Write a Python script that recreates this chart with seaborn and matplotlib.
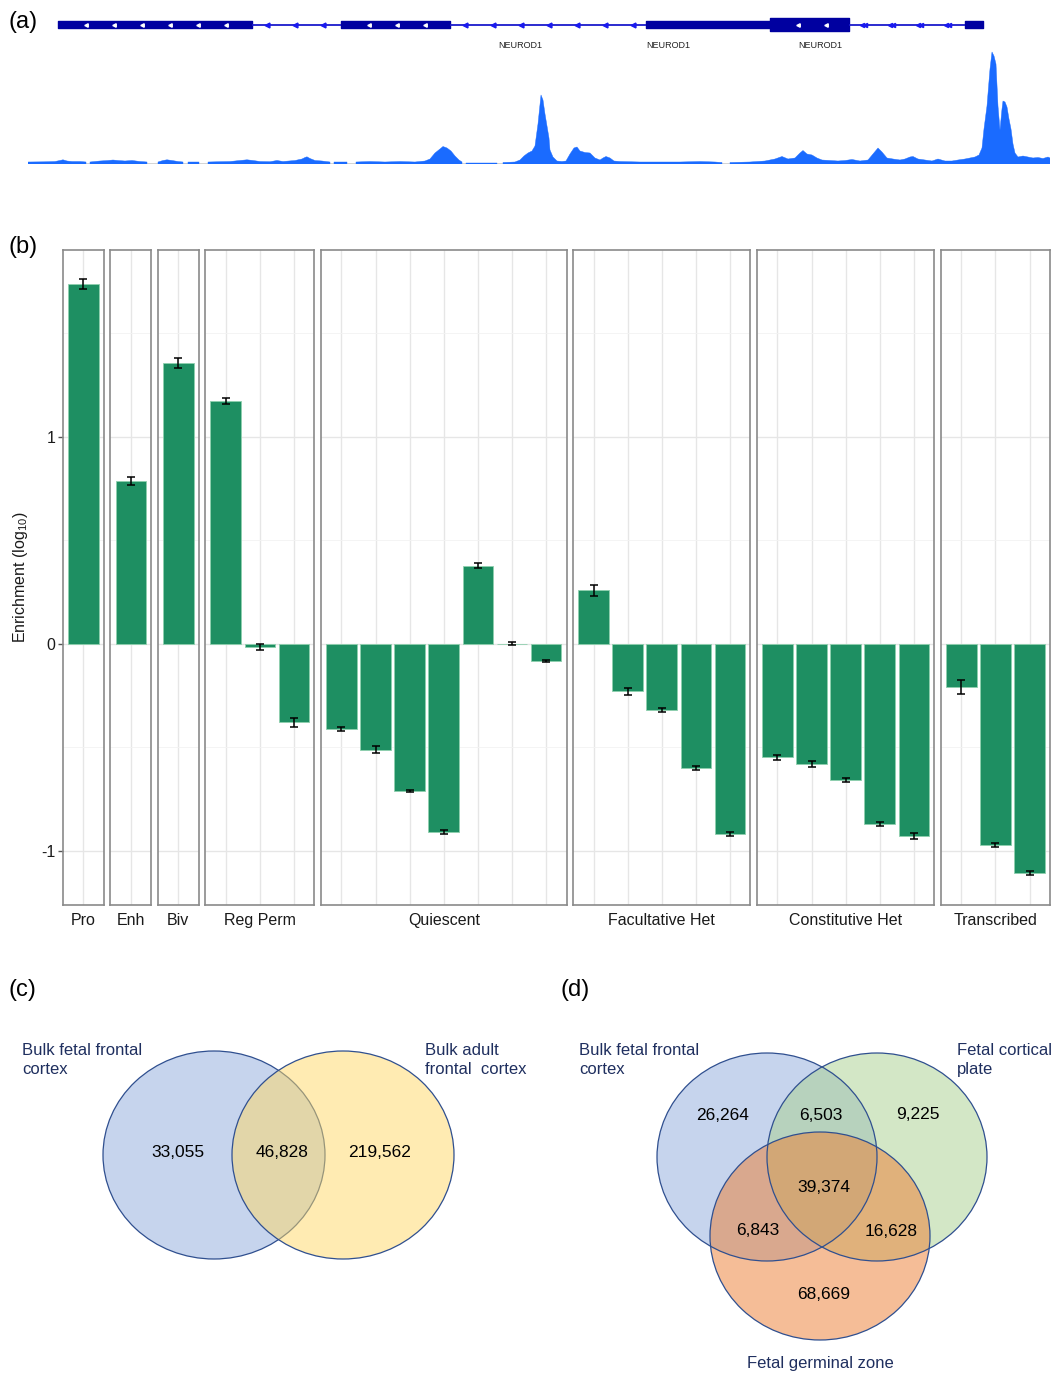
import numpy as np
import pandas as pd
import matplotlib
matplotlib.use("Agg")
import matplotlib.pyplot as plt
from matplotlib.patches import Ellipse
import seaborn as sns

W, H = 1056, 1374

# ---- (a) gene track + coverage ----
utr_exons = [(58, 252), (341, 450), (646, 770), (965, 983)]
cds_exons = [(770, 849)]
introns = [(252, 341), (450, 646), (849, 965)]
gene_label_pos = [520, 668, 820]
gene_label = "NEUROD1"

signal_pos = [28, 45, 55, 60, 63, 67, 72, 80, 86, 87, 89, 90, 100, 108, 113, 118, 125, 132, 140, 147,
              148, 157, 158, 163, 167, 172, 178, 183, 184, 187, 188, 199, 200, 207, 208, 220, 230, 240,
              247, 253, 260, 270, 277, 283, 295, 302, 305, 307, 310, 315, 322, 330, 331, 333, 334, 347,
              348, 355, 356, 370, 385, 400, 415, 425, 430, 435, 440, 443, 447, 451, 455, 459, 462, 463,
              465, 466, 497, 498, 502, 503, 515, 520, 524, 528, 532, 535, 538, 541, 543, 545, 547, 549,
              550, 553, 557, 562, 566, 570, 574, 577, 580, 585, 590, 595, 600, 603, 606, 610, 614, 620,
              640, 660, 680, 700, 715, 722, 723, 729, 730, 750, 765, 775, 782, 788, 795, 800, 803, 807,
              812, 817, 822, 830, 838, 845, 852, 860, 868, 873, 878, 882, 887, 893, 900, 905, 910, 913,
              918, 925, 932, 938, 945, 952, 958, 965, 970, 975, 979, 982, 984, 987, 990, 992, 994, 996,
              998, 1000, 1002, 1003, 1005, 1007, 1009, 1011, 1013, 1015, 1018, 1023, 1028, 1033, 1038,
              1043, 1048, 1050]
signal_height = [2, 2.2, 2.5, 3.5, 4.2, 3, 2.5, 2.5, 2, np.nan, np.nan, 2, 3, 3.5, 4, 3.5, 3, 3.5, 2.5, 2,
                 np.nan, np.nan, 2, 3.5, 4.2, 3.5, 2.5, 2, np.nan, np.nan, 2, 2, np.nan, np.nan, 2, 2.3,
                 2.5, 3.5, 4.2, 3.5, 2.5, 2.3, 3.5, 2.5, 3.5, 5, 6.5, 7.2, 5.5, 3.5, 3, 2, np.nan, np.nan,
                 2, 2, np.nan, np.nan, 2, 2.5, 2, 2.5, 2, 3, 5, 11, 15, 17.5, 16, 13, 8, 4, 2, np.nan,
                 np.nan, 1.5, 1.5, np.nan, np.nan, 1.5, 2, 4, 8, 11, 13, 18, 40, 69, 64, 50, 38, 26,
                 14, 7, 3, 2.5, 3, 10, 16, 17, 13, 11.5, 11, 6, 4, 6, 7.5, 6, 3, 2.5,
                 2, 2, 2, 2.5, 2, 1.5, np.nan, np.nan, 1.5, 2, 3, 5, 7.5, 5, 6, 11, 13.5, 10,
                 9, 6, 4, 3.5, 3, 3.5, 4.5, 3, 4, 10, 16, 12, 6, 5, 4, 5, 7, 7.5,
                 5, 4, 3, 5, 3, 3, 4, 5, 6, 7, 9, 16, 35, 58, 95, 112, 108, 100,
                 58, 34, 55, 63, 62, 57, 45, 35, 20, 11, 7, 8, 7, 6, 6.5,
                 5.5, 7, 6]

# ---- (b) enrichment of chromatin states ----
groups = ["Pro", "Enh", "Biv", "Reg Perm", "Quiescent", "Facultative Het", "Constitutive Het", "Transcribed"]
group_sizes = [1, 1, 1, 3, 7, 5, 5, 3]
enrichment = [1.738, 0.786, 1.357,
              1.175, -0.016, -0.38,
              -0.411, -0.511, -0.71, -0.91, 0.378, 0.0, -0.081,
              0.258, -0.23, -0.32, -0.60, -0.921,
              -0.549, -0.58, -0.659, -0.872, -0.93,
              -0.208, -0.97, -1.108]
enrich_se = [0.025, 0.02, 0.025,
             0.015, 0.015, 0.02,
             0.01, 0.015, 0.005, 0.01, 0.012, 0.008, 0.005,
             0.025, 0.015, 0.01, 0.01, 0.01,
             0.01, 0.015, 0.01, 0.01, 0.015,
             0.035, 0.01, 0.01]

# ---- (c), (d) Venn diagrams ----
venn2_labels = ["Bulk fetal frontal\ncortex", "Bulk adult\nfrontal  cortex"]
venn2_counts = [33055, 46828, 219562]
venn3_labels = ["Bulk fetal frontal\ncortex", "Fetal cortical\nplate", "Fetal germinal zone"]
venn3_counts = [26264, 6503, 9225, 39374, 6843, 16628, 68669]

sns.set_theme(style="white")
plt.rcParams['font.family'] = ['Liberation Sans', 'DejaVu Sans']
plt.rcParams['mathtext.default'] = 'regular'

fig = plt.figure(figsize=(W / 100, H / 100), dpi=100)


def px_axes(x0, y0, x1, y1):
    return fig.add_axes([x0 / W, 1 - y1 / H, (x1 - x0) / W, (y1 - y0) / H])


navy = "#0000a0"

# gene track
ax_g = px_axes(28, 8, 1050, 56)
ax_g.set_xlim(28, 1050)
ax_g.set_ylim(56, 8)
ax_g.axis("off")
yc = 24.5
ax_g.hlines([yc] * len(introns), [s for s, e in introns], [e for s, e in introns], color="#1a1acc", lw=1.3)
ax_g.broken_barh([(s, e - s) for s, e in utr_exons], (yc - 3.8, 7.6), color=navy)
ax_g.broken_barh([(s, e - s) for s, e in cds_exons], (yc - 6.3, 12.6), color=navy)
for s, e in utr_exons[:2] + cds_exons:
    xs = np.arange(s + 28, e - 8, 28)
    ax_g.plot(xs, [yc] * len(xs), ls="none", marker="<", ms=2.5, color="white")
for s, e in introns[:2]:
    xs = np.arange(s + 15, e - 5, 28)
    ax_g.plot(xs, [yc] * len(xs), ls="none", marker="<", ms=3.5, color="#1a1aee")
s, e = introns[2]
xs = np.arange(s + 13, e - 8, 28)
ax_g.plot(np.r_[xs, xs + 3], [yc] * (2 * len(xs)), ls="none", marker="<", ms=3, color="#1a1aee")
for xp in gene_label_pos:
    ax_g.text(xp, 46, gene_label, fontsize=6.5, ha="center", va="center", color="#222222")

# coverage track
ax_s = px_axes(28, 44, 1050, 164)
ax_s.set_xlim(28, 1050)
ax_s.set_ylim(0, 120)
ax_s.axis("off")
ax_s.axhline(0.4, color="#cccccc", lw=1.2, zorder=0)
ax_s.fill_between(signal_pos, 0, signal_height, color="#1a6bff", lw=0.3, edgecolor="#1a6bff")

# faceted bar chart
df = pd.DataFrame({
    "group": np.repeat(groups, group_sizes),
    "enrichment": enrichment,
    "se": enrich_se,
})
df["state"] = df.groupby("group", sort=False).cumcount().astype(str)

left, right, top, bottom = 63, 1050, 250, 905
gap = 6.5
unit = (right - left - gap * (len(groups) - 1)) / (sum(group_sizes) + 0.2 * len(groups))
ymin, ymax = -1.262, 1.903
bar_color = "#1e8f62"
x0 = left
for i, (g, n) in enumerate(zip(groups, group_sizes)):
    w = unit * (n + 0.2)
    ax = px_axes(x0, top, x0 + w, bottom)
    x0 += w + gap
    sub = df[df["group"] == g]
    sns.barplot(data=sub, x="state", y="enrichment", color=bar_color, saturation=1, width=0.9,
                errorbar=None, edgecolor="#8fd0ae", linewidth=0.6, ax=ax, zorder=3)
    ax.errorbar(np.arange(n), sub["enrichment"], yerr=sub["se"], fmt="none", ecolor="black",
                elinewidth=1.1, capsize=3, capthick=1.1, zorder=4)
    ax.set_xlim(-0.6, n - 0.4)
    ax.set_ylim(ymin, ymax)
    ax.set_yticks([-1, 0, 1])
    ax.set_yticks([-0.5, 0.5, 1.5], minor=True)
    ax.set_xticks(np.arange(n))
    ax.set_xticklabels([])
    ax.grid(True, which="major", color="#e6e6e6", lw=1.0, zorder=0)
    ax.grid(True, which="minor", axis="y", color="#f2f2f2", lw=0.6, zorder=0)
    ax.set_axisbelow(True)
    ax.tick_params(axis="x", length=0)
    for sp in ax.spines.values():
        sp.set_visible(True)
        sp.set_color("#8a8a8a")
        sp.set_linewidth(1.2)
    ax.set_xlabel(g, fontsize=11.5, labelpad=2, color="#1a1a1a")
    if i == 0:
        ax.set_yticklabels(["-1", "0", "1"], fontsize=11.5, color="#1a1a1a")
        ax.tick_params(axis="y", which="major", length=3.5, width=1, color="#555555", left=True, pad=2)
        ax.tick_params(axis="y", which="minor", length=0)
        ax.set_ylabel("Enrichment (log$_{10}$)", fontsize=11.5, labelpad=8, color="#1a1a1a")
    else:
        ax.set_yticklabels([])
        ax.tick_params(axis="y", which="both", length=0)
        ax.set_ylabel("")

# Venn diagrams on a pixel-scaled canvas
ax_v = px_axes(0, 960, W, H)
ax_v.set_xlim(0, W)
ax_v.set_ylim(H, 960)
ax_v.axis("off")
edge = "#2f4f8f"
lab_color = "#1f2f5f"

# (c)
for (cx, cy), col in zip([(214, 1155), (343, 1155)], ["#8faadc", "#ffd966"]):
    ax_v.add_patch(Ellipse((cx, cy), 222, 208, facecolor=col, alpha=0.5, edgecolor="none"))
    ax_v.add_patch(Ellipse((cx, cy), 222, 208, facecolor="none", edgecolor=edge, lw=0.9))
for (tx, ty), v in zip([(178, 1152), (282, 1152), (380, 1152)], venn2_counts):
    ax_v.text(tx, ty, f"{v:,}", fontsize=12.5, ha="center", va="center", color="black")
ax_v.text(22, 1060, venn2_labels[0], fontsize=12, ha="left", va="center", color=lab_color, linespacing=1.3)
ax_v.text(425, 1060, venn2_labels[1], fontsize=12, ha="left", va="center", color=lab_color, linespacing=1.3)

# (d)
for (cx, cy), col in zip([(767, 1157), (877, 1157), (820, 1236)], ["#8faadc", "#a9d18e", "#ed7d31"]):
    ax_v.add_patch(Ellipse((cx, cy), 220, 208, facecolor=col, alpha=0.5, edgecolor="none"))
for (cx, cy) in [(767, 1157), (877, 1157), (820, 1236)]:
    ax_v.add_patch(Ellipse((cx, cy), 220, 208, facecolor="none", edgecolor=edge, lw=0.9))
pos3 = [(723, 1115), (821, 1115), (918, 1114), (824, 1187), (758, 1230), (891, 1231), (824, 1294)]
for (tx, ty), v in zip(pos3, venn3_counts):
    ax_v.text(tx, ty, f"{v:,}", fontsize=12.5, ha="center", va="center", color="black")
ax_v.text(579, 1060, venn3_labels[0], fontsize=12, ha="left", va="center", color=lab_color, linespacing=1.3)
ax_v.text(957, 1060, venn3_labels[1], fontsize=12, ha="left", va="center", color=lab_color, linespacing=1.3)
ax_v.text(820, 1363, venn3_labels[2], fontsize=12, ha="center", va="center", color=lab_color)

# panel letters
for lab, (lx, ly) in zip(["(a)", "(b)", "(c)", "(d)"], [(9, 22), (9, 247), (9, 990), (561, 990)]):
    fig.text(lx / W, 1 - ly / H, lab, fontsize=17, ha="left", va="center", color="black")

fig.savefig("out.png", dpi=100)
